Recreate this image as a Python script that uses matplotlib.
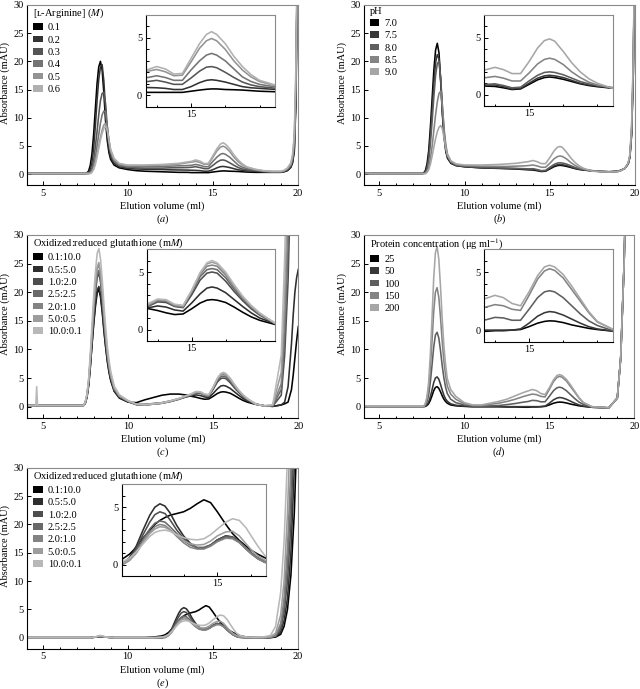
import matplotlib
matplotlib.use("Agg")
import matplotlib.pyplot as plt
from matplotlib.patches import Patch
from matplotlib.ticker import FixedLocator, MultipleLocator

plt.rcParams['font.family'] = ['Liberation Serif', 'DejaVu Serif']
plt.rcParams['mathtext.fontset'] = 'stix'
plt.rcParams['font.size'] = 7.5

# elution volume grid (ml) shared by panels a-d
vol = [4.1, 4.6, 4.65, 4.7,
       7.4, 7.5, 7.6, 7.7, 7.8, 7.9, 8.0, 8.1, 8.2, 8.3, 8.4, 8.5, 8.6, 8.7, 8.8, 8.9, 9.0,
       9.2, 9.5, 10.0, 10.5, 11.0, 12.0, 12.5, 13.0,
       13.5, 13.75, 14.0, 14.25, 14.5, 14.75, 15.0, 15.25, 15.45, 15.6, 15.75, 16.0, 16.25, 16.5, 16.75, 17.0,
       17.5, 18.0, 18.5, 19.0, 19.2, 19.4, 19.6, 19.7, 19.8, 19.9, 20.0]

# (a) L-arginine
arg_labels = ['0.1', '0.2', '0.3', '0.4', '0.5', '0.6']
arg_01 = [0.1, 0.1, 0.1, 0.1,
          0.1, 0.1, 0.2, 0.5, 1.5, 3.5, 7.0, 11.5, 16.0, 19.0, 20.0, 18.5, 14.5, 9.5, 6.0, 3.8, 2.6,
          1.6, 1.1, 0.8, 0.6, 0.5, 0.4, 0.35, 0.3,
          0.3, 0.25, 0.25, 0.25, 0.25, 0.25, 0.35, 0.45, 0.52, 0.55, 0.55, 0.5, 0.48, 0.45, 0.4, 0.35,
          0.3, 0.3, 0.3, 0.3, 0.4, 0.6, 1.2, 2.0, 4.0, 13.0, 45.0]
arg_02 = [0.1, 0.1, 0.1, 0.1,
          0.1, 0.1, 0.1, 0.3, 0.8, 2.0, 4.5, 8.5, 13.0, 16.8, 19.0, 19.4, 16.5, 11.5, 7.0, 4.5, 3.0,
          1.9, 1.3, 1.0, 0.9, 0.85, 0.8, 0.75, 0.72,
          0.7, 0.67, 0.65, 0.6, 0.5, 0.5, 0.75, 1.1, 1.3, 1.35, 1.3, 1.15, 0.95, 0.75, 0.65, 0.6,
          0.5, 0.4, 0.35, 0.35, 0.45, 0.7, 1.3, 2.2, 4.5, 14.0, 45.0]
arg_03 = [0.1, 0.1, 0.1, 0.1,
          0.1, 0.1, 0.1, 0.1, 0.4, 1.0, 2.5, 4.8, 7.5, 10.5, 13.0, 14.3, 14.5, 12.5, 8.5, 5.5, 3.6,
          2.2, 1.5, 1.2, 1.1, 1.05, 1.05, 1.1, 1.12,
          1.15, 1.2, 1.3, 1.15, 0.95, 0.95, 1.5, 2.1, 2.45, 2.5, 2.4, 2.0, 1.55, 1.15, 0.9, 0.75,
          0.6, 0.45, 0.35, 0.35, 0.5, 0.8, 1.5, 2.5, 5.0, 15.0, 45.0]
arg_04 = [0.1, 0.1, 0.1, 0.1,
          0.1, 0.1, 0.1, 0.1, 0.2, 0.6, 1.5, 3.0, 5.0, 7.0, 9.0, 10.5, 11.2, 11.0, 8.5, 6.0, 4.0,
          2.4, 1.6, 1.3, 1.3, 1.3, 1.35, 1.4, 1.45,
          1.5, 1.55, 1.7, 1.55, 1.3, 1.3, 2.2, 3.0, 3.5, 3.65, 3.5, 3.0, 2.3, 1.6, 1.2, 0.95,
          0.7, 0.5, 0.4, 0.4, 0.55, 0.9, 1.6, 2.8, 5.5, 16.0, 45.0]
arg_05 = [0.1, 0.1, 0.1, 0.1,
          0.1, 0.1, 0.1, 0.1, 0.1, 0.4, 1.0, 2.0, 3.5, 5.0, 6.5, 7.8, 8.7, 9.0, 8.0, 6.0, 4.2,
          2.6, 1.8, 1.5, 1.5, 1.5, 1.6, 1.65, 1.75,
          2.0, 2.1, 2.25, 2.05, 1.7, 1.75, 2.9, 4.1, 4.75, 4.95, 4.75, 4.0, 3.0, 2.2, 1.6, 1.2,
          0.8, 0.55, 0.45, 0.45, 0.6, 1.0, 1.8, 3.2, 6.5, 18.0, 45.0]
arg_06 = [0.1, 0.1, 0.1, 0.1,
          0.1, 0.1, 0.1, 0.1, 0.1, 0.3, 0.8, 1.7, 3.0, 4.5, 6.0, 7.2, 8.1, 8.5, 7.8, 6.0, 4.4,
          2.8, 1.9, 1.6, 1.6, 1.6, 1.7, 1.8, 1.9,
          2.15, 2.25, 2.5, 2.3, 1.85, 1.9, 3.2, 4.5, 5.3, 5.55, 5.3, 4.5, 3.4, 2.5, 1.8, 1.3,
          0.85, 0.6, 0.5, 0.5, 0.65, 1.1, 2.0, 3.5, 7.0, 20.0, 45.0]

# (b) pH
ph_labels = ['7.0', '7.5', '8.0', '8.5', '9.0']
ph_70 = [0.1, 0.1, 0.1, 0.1,
         0.1, 0.1, 0.2, 0.6, 1.8, 4.2, 8.5, 13.5, 18.5, 22.0, 23.2, 21.5, 16.5, 10.5, 6.5, 4.0, 2.8,
         1.9, 1.5, 1.3, 1.2, 1.1, 1.0, 0.95, 0.9,
         0.8, 0.75, 0.72, 0.6, 0.45, 0.5, 0.9, 1.3, 1.5, 1.55, 1.5, 1.35, 1.15, 0.95, 0.8, 0.7,
         0.55, 0.45, 0.4, 0.5, 0.7, 1.0, 1.8, 3.0, 7.0, 18.0, 45.0]
ph_75 = [0.1, 0.1, 0.1, 0.1,
         0.1, 0.1, 0.1, 0.4, 1.3, 3.3, 7.0, 11.5, 16.0, 19.8, 21.2, 20.5, 16.5, 11.0, 7.0, 4.3, 3.0,
         2.0, 1.5, 1.3, 1.2, 1.1, 1.05, 1.0, 0.95,
         0.9, 0.85, 0.85, 0.7, 0.5, 0.55, 1.0, 1.45, 1.65, 1.7, 1.65, 1.5, 1.25, 1.0, 0.85, 0.75,
         0.55, 0.45, 0.4, 0.5, 0.7, 1.0, 1.8, 3.0, 7.0, 18.0, 45.0]
ph_80 = [0.1, 0.1, 0.1, 0.1,
         0.1, 0.1, 0.1, 0.3, 0.9, 2.5, 5.5, 9.5, 13.8, 17.5, 19.6, 20.0, 17.0, 12.0, 7.5, 4.7, 3.2,
         2.1, 1.6, 1.4, 1.3, 1.2, 1.1, 1.05, 1.0,
         0.95, 0.9, 0.95, 0.8, 0.6, 0.65, 1.2, 1.7, 1.95, 2.0, 1.95, 1.75, 1.45, 1.15, 0.95, 0.8,
         0.6, 0.45, 0.4, 0.45, 0.65, 1.0, 1.8, 3.2, 7.5, 19.0, 45.0]
ph_85 = [0.1, 0.1, 0.1, 0.1,
         0.1, 0.1, 0.1, 0.1, 0.4, 1.2, 2.8, 5.0, 7.8, 10.5, 12.8, 14.3, 14.7, 12.0, 8.0, 5.2, 3.5,
         2.3, 1.7, 1.5, 1.45, 1.4, 1.35, 1.35, 1.4,
         1.45, 1.5, 1.6, 1.45, 1.2, 1.2, 1.9, 2.7, 3.1, 3.2, 3.1, 2.65, 2.0, 1.5, 1.1, 0.85,
         0.55, 0.45, 0.4, 0.45, 0.65, 1.0, 1.9, 3.3, 8.0, 20.0, 45.0]
ph_90 = [0.1, 0.1, 0.1, 0.1,
         0.1, 0.1, 0.1, 0.1, 0.3, 0.8, 1.8, 3.2, 4.8, 6.3, 7.5, 8.3, 8.6, 8.0, 6.3, 4.5, 3.3,
         2.3, 1.8, 1.6, 1.6, 1.6, 1.7, 1.8, 1.9,
         2.1, 2.2, 2.4, 2.2, 1.85, 1.85, 2.9, 4.1, 4.75, 4.9, 4.7, 3.8, 2.8, 2.0, 1.4, 1.0,
         0.5, 0.4, 0.35, 0.45, 0.65, 1.0, 2.0, 3.5, 8.5, 21.0, 45.0]

# (c) oxidized:reduced glutathione
gsh_labels = ['0.1:10.0', '0.5:5.0', '1.0:2.0', '2.5:2.5', '2.0:1.0', '5.0:0.5', '10.0:0.1']
gsh_1 = [0.2, 0.2, 0.2, 0.2,
         0.2, 0.6, 1.6, 3.7, 7.0, 10.9, 14.6, 17.6, 19.9, 20.5, 19.1, 16.4, 13.1, 10.3, 7.8, 5.9, 4.5,
         2.7, 1.5, 0.8, 0.7, 1.2, 2.0, 2.2, 2.2,
         2.0, 1.8, 1.65, 1.45, 1.3, 1.35, 1.8, 2.3, 2.55, 2.6, 2.55, 2.35, 1.95, 1.5, 1.1, 0.8,
         0.4, 0.15, 0.05, 0.3, 0.5, 0.8, 3.0, 5.5, 8.5, 11.5, 14.0]
gsh_2 = [0.2, 0.2, 0.2, 0.2,
         0.2, 0.6, 1.7, 3.8, 7.1, 11.1, 14.9, 18.1, 20.4, 21.0, 19.5, 16.8, 13.4, 10.5, 8.0, 6.1, 4.6,
         2.7, 1.6, 0.85, 0.4, 0.4, 0.7, 1.0, 1.4,
         1.75, 1.9, 2.05, 1.95, 1.7, 1.6, 2.3, 3.1, 3.6, 3.7, 3.6, 3.2, 2.6, 2.0, 1.45, 1.0,
         0.45, 0.15, 0.05, 0.3, 0.8, 3.5, 11.0, 16.0, 20.0, 22.5, 24.0]
gsh_3 = [0.2, 0.2, 0.2, 0.2,
         0.2, 0.7, 1.9, 4.2, 7.9, 12.3, 16.5, 20.0, 22.6, 23.3, 21.7, 18.6, 14.9, 11.7, 8.9, 6.8, 5.1,
         3.0, 1.7, 0.9, 0.35, 0.3, 0.6, 0.9, 1.3,
         1.8, 2.05, 2.4, 2.35, 2.0, 1.9, 3.0, 4.3, 4.9, 5.0, 4.9, 4.2, 3.3, 2.5, 1.8, 1.25,
         0.45, 0.15, 0.1, 2.0, 9.0, 22.0, 45.0, 60.0, 60.0, 60.0, 60.0]
gsh_4 = [0.2, 0.2, 0.2, 0.2,
         0.2, 0.7, 1.9, 4.3, 8.1, 12.6, 16.9, 20.5, 23.1, 23.8, 22.1, 19.0, 15.2, 11.9, 9.0, 6.9, 5.2,
         3.1, 1.8, 0.95, 0.35, 0.3, 0.6, 0.9, 1.3,
         1.85, 2.1, 2.5, 2.45, 2.05, 1.95, 3.2, 4.6, 5.2, 5.3, 5.2, 4.5, 3.5, 2.65, 1.9, 1.3,
         0.45, 0.15, 0.15, 3.0, 12.0, 28.0, 50.0, 60.0, 60.0, 60.0, 60.0]
gsh_5 = [0.2, 0.2, 0.2, 0.2,
         0.2, 0.7, 2.0, 4.5, 8.4, 13.1, 17.6, 21.3, 24.1, 24.8, 23.1, 19.8, 15.9, 12.4, 9.4, 7.2, 5.5,
         3.2, 1.9, 1.0, 0.4, 0.3, 0.6, 0.95, 1.35,
         1.9, 2.15, 2.55, 2.5, 2.1, 2.0, 3.3, 4.8, 5.5, 5.6, 5.5, 4.75, 3.7, 2.75, 2.0, 1.35,
         0.45, 0.15, 0.2, 4.0, 15.0, 33.0, 55.0, 60.0, 60.0, 60.0, 60.0]
gsh_6 = [0.2, 0.2, 0.2, 0.2,
         0.2, 0.8, 2.0, 4.5, 8.6, 13.4, 17.9, 21.7, 24.4, 25.2, 23.4, 20.2, 16.1, 12.6, 9.6, 7.3, 5.5,
         3.3, 1.9, 1.0, 0.4, 0.35, 0.65, 1.0, 1.4,
         1.95, 2.2, 2.6, 2.55, 2.15, 2.05, 3.35, 4.9, 5.7, 5.85, 5.7, 4.9, 3.85, 2.85, 2.05, 1.4,
         0.45, 0.15, 0.25, 6.0, 20.0, 40.0, 60.0, 60.0, 60.0, 60.0, 60.0]
gsh_7 = [0.2, 0.2, 3.5, 0.2,
         0.2, 0.8, 2.2, 5.0, 9.4, 14.6, 19.6, 23.7, 26.8, 27.6, 25.7, 22.1, 17.7, 13.8, 10.5, 8.0, 6.1,
         3.6, 2.1, 1.1, 0.45, 0.35, 0.65, 1.0, 1.45,
         2.0, 2.3, 2.65, 2.6, 2.2, 2.1, 3.4, 4.95, 5.8, 6.0, 5.8, 5.0, 3.9, 2.9, 2.1, 1.45,
         0.45, 0.15, 0.35, 9.0, 26.0, 48.0, 60.0, 60.0, 60.0, 60.0, 60.0]

# (d) protein concentration
prot_labels = ['25', '50', '100', '150', '200']
prot_25 = [0.0, 0.0, 0.0, 0.0,
           0.0, 0.0, 0.0, 0.05, 0.2, 0.5, 1.1, 1.9, 2.8, 3.35, 3.5, 3.2, 2.6, 1.9, 1.3, 0.9, 0.6,
           0.3, 0.15, 0.05, 0.0, 0.0, 0.0, -0.05, -0.05,
           -0.1, -0.1, -0.05, -0.05, 0.0, 0.05, 0.3, 0.6, 0.75, 0.8, 0.78, 0.65, 0.45, 0.3, 0.15, 0.05,
           -0.1, -0.15, -0.2, 1.5, 8.5, 25.0, 50.0, 60.0, 60.0, 60.0, 60.0]
prot_50 = [0.0, 0.0, 0.0, 0.0,
           0.0, 0.0, 0.0, 0.1, 0.3, 0.8, 1.7, 2.9, 4.2, 5.0, 5.2, 4.8, 3.9, 2.9, 2.0, 1.35, 0.95,
           0.5, 0.25, 0.1, 0.0, 0.0, 0.0, 0.0, 0.0,
           0.0, 0.0, 0.0, 0.0, 0.0, 0.1, 0.6, 1.2, 1.5, 1.6, 1.55, 1.3, 0.95, 0.6, 0.3, 0.1,
           -0.1, -0.15, -0.2, 1.5, 8.5, 25.0, 50.0, 60.0, 60.0, 60.0, 60.0]
prot_100 = [0.0, 0.0, 0.0, 0.0,
            0.0, 0.0, 0.0, 0.25, 0.8, 2.0, 4.2, 7.2, 10.4, 12.5, 13.0, 12.0, 9.8, 7.2, 5.0, 3.4, 2.3,
            1.3, 0.7, 0.3, 0.1, 0.05, 0.2, 0.35, 0.55,
            0.8, 0.9, 1.1, 1.05, 0.85, 0.85, 1.8, 2.8, 3.3, 3.4, 3.3, 2.8, 2.1, 1.4, 0.8, 0.4,
            -0.1, -0.15, -0.2, 1.5, 8.5, 25.0, 50.0, 60.0, 60.0, 60.0, 60.0]
prot_150 = [0.0, 0.0, 0.0, 0.0,
            0.0, 0.0, 0.0, 0.4, 1.25, 3.1, 6.7, 11.4, 16.6, 20.0, 20.8, 19.1, 15.6, 11.4, 7.9, 5.4, 3.6,
            2.2, 1.3, 0.5, 0.2, 0.2, 0.6, 0.9, 1.3,
            1.8, 2.0, 2.2, 2.1, 1.8, 1.7, 3.0, 4.4, 5.1, 5.3, 5.15, 4.5, 3.5, 2.5, 1.5, 0.7,
            0.0, -0.1, -0.2, 1.5, 8.5, 25.0, 50.0, 60.0, 60.0, 60.0, 60.0]
prot_200 = [0.0, 0.0, 0.0, 0.0,
            0.0, 0.0, 0.0, 0.5, 1.7, 4.2, 9.0, 15.4, 22.4, 26.9, 28.0, 25.8, 21.0, 15.4, 10.6, 7.3, 4.9,
            3.0, 1.8, 0.7, 0.3, 0.3, 0.9, 1.3, 1.9,
            2.5, 2.75, 3.0, 2.8, 2.3, 2.1, 3.3, 4.7, 5.45, 5.6, 5.45, 4.8, 3.8, 2.7, 1.6, 0.75,
            0.0, -0.1, -0.2, 1.5, 8.5, 25.0, 50.0, 60.0, 60.0, 60.0, 60.0]

# (e) oxidized:reduced glutathione, second series
vol_e = [4.1, 7.8, 8.1, 8.4, 8.7, 9.2, 10.0, 11.0, 11.5, 12.0, 12.2, 12.4, 12.6, 12.8, 13.0,
         13.15, 13.3, 13.45, 13.6, 13.8, 14.0, 14.2, 14.4, 14.6, 14.8, 15.0, 15.25, 15.45, 15.65,
         15.85, 16.0, 16.2, 16.4, 16.6, 17.0, 17.5, 18.0, 18.4, 18.7, 19.0, 19.2, 19.4, 19.6, 19.8, 20.0]
gsh2_1 = [0.0, 0.0, 0.1, 0.2, 0.1, 0.0, 0.0, 0.0, 0.1, 0.3, 0.5, 0.9, 1.5, 2.3, 3.0,
          3.5, 3.85, 4.1, 4.3, 4.45, 4.6, 4.9, 5.3, 5.65, 5.4, 4.6, 3.5, 2.7, 2.1,
          1.6, 1.25, 0.9, 0.6, 0.35, 0.1, 0.0, 0.0, 0.0, 0.1, 0.6, 2.0, 5.0, 11.0, 22.0, 40.0]
gsh2_2 = [0.0, 0.0, 0.1, 0.2, 0.1, 0.0, 0.0, 0.0, 0.0, 0.0, 0.1, 0.6, 1.6, 3.0, 4.3,
          5.0, 5.3, 5.1, 4.5, 3.4, 2.5, 1.85, 1.45, 1.45, 1.7, 2.15, 2.5, 2.4, 1.95,
          1.35, 0.95, 0.5, 0.2, 0.05, 0.0, 0.0, 0.0, 0.05, 0.2, 1.0, 3.0, 7.0, 15.0, 30.0, 50.0]
gsh2_3 = [0.0, 0.0, 0.1, 0.25, 0.1, 0.0, 0.0, 0.0, 0.0, 0.0, 0.1, 0.5, 1.4, 2.6, 3.7,
          4.35, 4.6, 4.45, 3.9, 3.0, 2.3, 1.75, 1.45, 1.45, 1.7, 2.15, 2.5, 2.4, 2.0,
          1.4, 1.0, 0.55, 0.25, 0.1, 0.0, 0.0, 0.0, 0.05, 0.25, 1.5, 4.5, 10.0, 20.0, 38.0, 60.0]
gsh2_4 = [0.0, 0.0, 0.1, 0.3, 0.1, 0.0, 0.0, 0.0, 0.0, 0.0, 0.1, 0.45, 1.2, 2.2, 3.1,
          3.6, 3.8, 3.7, 3.3, 2.7, 2.1, 1.7, 1.5, 1.5, 1.7, 2.05, 2.4, 2.35, 2.0,
          1.45, 1.05, 0.6, 0.3, 0.1, 0.0, 0.0, 0.0, 0.1, 0.3, 2.0, 5.5, 13.0, 25.0, 45.0, 60.0]
gsh2_5 = [0.0, 0.0, 0.1, 0.3, 0.1, 0.0, 0.0, 0.0, 0.0, 0.0, 0.0, 0.35, 1.0, 2.0, 2.8,
          3.3, 3.5, 3.4, 3.05, 2.45, 1.9, 1.5, 1.35, 1.35, 1.6, 2.0, 2.3, 2.25, 1.9,
          1.35, 0.95, 0.5, 0.2, 0.05, 0.0, 0.0, 0.0, 0.1, 0.4, 2.5, 7.0, 16.0, 30.0, 50.0, 60.0]
gsh2_6 = [0.0, 0.0, 0.1, 0.35, 0.1, 0.0, 0.0, 0.0, 0.0, 0.05, 0.1, 0.4, 1.0, 1.9, 2.7,
          3.1, 3.3, 3.25, 3.0, 2.55, 2.1, 1.8, 1.7, 1.75, 2.05, 2.5, 2.85, 2.9, 2.5,
          1.8, 1.3, 0.75, 0.4, 0.15, 0.05, 0.0, 0.0, 0.15, 0.8, 4.0, 10.0, 22.0, 40.0, 60.0, 60.0]
gsh2_7 = [0.0, 0.0, 0.15, 0.4, 0.15, 0.0, 0.0, 0.0, 0.0, 0.1, 0.25, 0.55, 1.1, 1.8, 2.45,
          2.8, 2.95, 3.0, 2.9, 2.6, 2.35, 2.2, 2.15, 2.25, 2.6, 3.1, 3.7, 4.0, 3.85,
          3.2, 2.5, 1.6, 0.8, 0.4, 0.1, 0.05, 0.15, 0.4, 2.0, 8.0, 17.0, 32.0, 50.0, 60.0, 60.0]

grays5 = ['#000000', '#383838', '#5e5e5e', '#848484', '#a6a6a6']
grays6 = ['#000000', '#333333', '#555555', '#747474', '#939393', '#b0b0b0']
grays7 = ['#000000', '#2e2e2e', '#4e4e4e', '#696969', '#838383', '#9d9d9d', '#b8b8b8']

W, H = 640, 689
fig = plt.figure(figsize=(W / 100, H / 100), dpi=100)


def box(l, t, r, b):
    return [l / W, 1 - b / H, (r - l) / W, (b - t) / H]


def frame(ax):
    for s in ['left', 'bottom']:
        ax.spines[s].set_color('black')
        ax.spines[s].set_linewidth(0.8)
    for s in ['top', 'right']:
        ax.spines[s].set_color('#8a8a8a')
        ax.spines[s].set_linewidth(0.8)
    ax.tick_params(which='both', direction='in', width=0.7, labelsize=7.5, pad=2.5)
    ax.tick_params(which='major', length=3)
    ax.tick_params(which='minor', length=1.8)


def panel(pos, ipos, x, traces, labels, colors, title, letter, ixlim, ixminor):
    ax = fig.add_axes(box(*pos))
    for y, c in zip(traces, colors):
        ax.plot(x, y, color=c, lw=1.15)
    ax.set_xlim(4.1, 20)
    ax.set_ylim(-2, 30)
    ax.xaxis.set_major_locator(FixedLocator([5, 10, 15, 20]))
    ax.xaxis.set_minor_locator(MultipleLocator(1))
    ax.yaxis.set_major_locator(MultipleLocator(5))
    frame(ax)
    ax.annotate('Elution volume (ml)', xy=(0.5, 0), xycoords='axes fraction',
                xytext=(0, -15), textcoords='offset points', ha='center', va='center')
    ax.annotate(letter, xy=(0.5, 0), xycoords='axes fraction',
                xytext=(0, -24.5), textcoords='offset points', ha='center', va='center')
    ax.annotate('Absorbance (mAU)', xy=(0, 0.57), xycoords='axes fraction',
                xytext=(-16, 0), textcoords='offset points', ha='center', va='center',
                rotation=90)
    handles = [Patch(facecolor=c, edgecolor='none') for c in colors]
    ax.legend(handles, labels, title=title, loc='upper left', bbox_to_anchor=(0.016, 1),
              frameon=False, fontsize=7.5, title_fontsize=7.5, borderaxespad=0.05,
              borderpad=0.1, handlelength=0.9, handleheight=0.6, handletextpad=0.5,
              labelspacing=0.32, alignment='left')

    ins = fig.add_axes(box(*ipos))
    ins.set_facecolor('white')
    for y, c in zip(traces, colors):
        ins.plot(x, y, color=c, lw=1.15)
    ins.set_xlim(*ixlim)
    ins.set_ylim(-1, 7)
    ins.xaxis.set_major_locator(FixedLocator([15]))
    ins.xaxis.set_minor_locator(FixedLocator(ixminor))
    ins.yaxis.set_major_locator(FixedLocator([0, 5]))
    ins.yaxis.set_minor_locator(MultipleLocator(1))
    frame(ins)
    return ax


panel((27.3, 5, 297.7, 185.3), (145.7, 15, 275, 106.7), vol,
      [arg_01, arg_02, arg_03, arg_04, arg_05, arg_06], arg_labels, grays6,
      '[ʟ-Arginine] ($M$)', '($a$)', (13.68, 17.45), [14, 16, 17])
panel((364, 5, 635, 185.3), (484, 15, 612.7, 106), vol,
      [ph_70, ph_75, ph_80, ph_85, ph_90], ph_labels, grays5,
      'pH', '($b$)', (13.68, 17.45), [14, 16, 17])
panel((27.3, 235, 298.3, 418.1), (146.7, 249, 275, 341), vol,
      [gsh_1, gsh_2, gsh_3, gsh_4, gsh_5, gsh_6, gsh_7], gsh_labels, grays7,
      'Oxidized:reduced glutathione (m$M$)', '($c$)', (13.68, 17.45), [14, 16, 17])
panel((364, 235, 634.3, 418.1), (484, 249, 612.7, 341.7), vol,
      [prot_25, prot_50, prot_100, prot_150, prot_200], prot_labels, grays5,
      'Protein concentration (μg ml$^{-1}$)', '($d$)', (13.68, 17.45), [14, 16, 17])
panel((27.3, 467.7, 297.7, 649), (121.7, 484.3, 265.7, 576), vol_e,
      [gsh2_1, gsh2_2, gsh2_3, gsh2_4, gsh2_5, gsh2_6, gsh2_7], gsh_labels, grays7,
      'Oxidized:reduced glutathione (m$M$)', '($e$)', (12.17, 16.43), [13, 14, 16])

fig.savefig('out.png', dpi=100)
